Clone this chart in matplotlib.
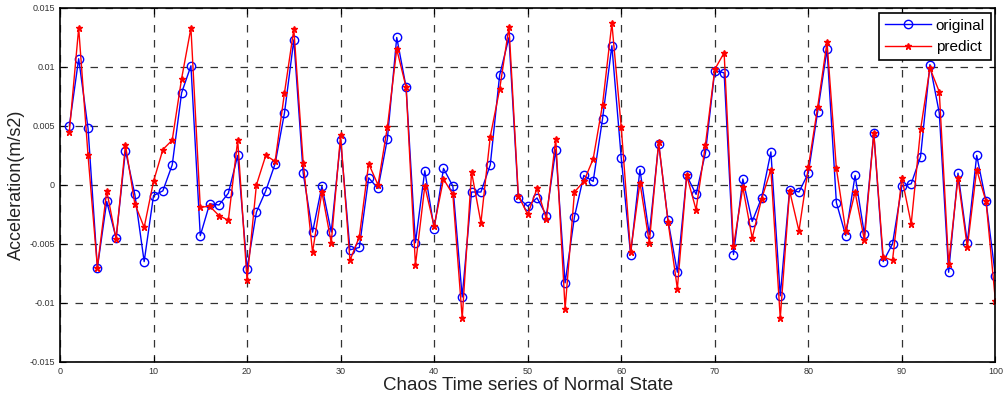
import numpy as np
import matplotlib.pyplot as plt

plt.rcParams['font.family'] = ['Liberation Sans', 'DejaVu Sans']

# sample index 1..100
t = np.arange(1, 101)

original = [
    0.0050, 0.0107, 0.0048, -0.0070, -0.0014, -0.0045, 0.0029, -0.0008, -0.0065, -0.0009,
    -0.0005, 0.0017, 0.0078, 0.0101, -0.0043, -0.0016, -0.0017, -0.0007, 0.0025, -0.0071,
    -0.0023, -0.0005, 0.0018, 0.0061, 0.0123, 0.0010, -0.0040, -0.0001, -0.0040, 0.0038,
    -0.0055, -0.0053, 0.0006, -0.0003, 0.0039, 0.0125, 0.0083, -0.0049, 0.0012, -0.0037,
    0.0014, -0.0001, -0.0095, -0.0006, -0.0006, 0.0017, 0.0093, 0.0125, -0.0011, -0.0018,
    -0.0011, -0.0026, 0.0030, -0.0083, -0.0027, 0.0008, 0.0003, 0.0056, 0.0118, 0.0023,
    -0.0059, 0.0013, -0.0042, 0.0035, -0.0030, -0.0074, 0.0008, -0.0008, 0.0027, 0.0097,
    0.0095, -0.0059, 0.0005, -0.0031, -0.0011, 0.0028, -0.0094, -0.0004, -0.0006, 0.0010,
    0.0062, 0.0115, -0.0015, -0.0043, 0.0008, -0.0042, 0.0044, -0.0065, -0.0050, -0.0001,
    0.0001, 0.0024, 0.0102, 0.0061, -0.0074, 0.0010, -0.0049, 0.0025, -0.0014, -0.0077,
]

predict = [
    0.0045, 0.0133, 0.0025, -0.0070, -0.0005, -0.0046, 0.0034, -0.0016, -0.0036, 0.0003,
    0.0030, 0.0038, 0.0090, 0.0133, -0.0019, -0.0018, -0.0026, -0.0030, 0.0038, -0.0081,
    0.0000, 0.0025, 0.0020, 0.0078, 0.0132, 0.0019, -0.0057, -0.0006, -0.0049, 0.0042,
    -0.0064, -0.0044, 0.0018, 0.0000, 0.0049, 0.0115, 0.0083, -0.0068, -0.0001, -0.0035,
    0.0005, -0.0008, -0.0113, 0.0011, -0.0032, 0.0041, 0.0081, 0.0134, -0.0009, -0.0025,
    -0.0003, -0.0029, 0.0039, -0.0105, -0.0006, 0.0003, 0.0022, 0.0068, 0.0137, 0.0049,
    -0.0057, 0.0002, -0.0049, 0.0036, -0.0031, -0.0088, 0.0008, -0.0021, 0.0034, 0.0098,
    0.0112, -0.0052, -0.0002, -0.0045, -0.0012, 0.0013, -0.0113, -0.0005, -0.0039, 0.0015,
    0.0066, 0.0121, 0.0014, -0.0039, -0.0006, -0.0047, 0.0044, -0.0061, -0.0064, 0.0006,
    -0.0033, 0.0047, 0.0099, 0.0079, -0.0067, 0.0006, -0.0053, 0.0013, -0.0014, -0.0098,
]

xticks = np.arange(0, 101, 10)
yticks = [-0.015, -0.01, -0.005, 0, 0.005, 0.01, 0.015]
ytick_labels = ['-0.015', '-0.01', '-0.005', '0', '0.005', '0.01', '0.015']

fig = plt.figure(figsize=(10.08, 3.99), dpi=100)
ax = fig.add_axes([0.0595, 0.093, 0.928, 0.887])

ax.plot(t, original, color='blue', marker='o', markersize=6, markerfacecolor='none',
        markeredgewidth=1.0, linewidth=1.0, label='original')
ax.plot(t, predict, color='red', marker='*', markersize=5, linewidth=1.0, label='predict')

ax.set_xlim(0, 100)
ax.set_ylim(-0.015, 0.015)
ax.set_xticks(xticks)
ax.set_yticks(yticks)
ax.set_yticklabels(ytick_labels)
ax.tick_params(direction='in', top=True, right=True, labelsize=6.5, length=4,
               labelcolor='#333333')
ax.grid(True, color='black', linestyle=(0, (6, 6)), linewidth=0.9, alpha=0.8)
for s in ax.spines.values():
    s.set_linewidth(1.2)

ax.set_xlabel('Chaos Time series of Normal State', fontsize=13.5, labelpad=1,
              color='#222222')
ax.set_ylabel('Acceleration(m/s2)', fontsize=13, labelpad=3, color='#222222')

leg = ax.legend(loc='upper right', fontsize=11, fancybox=False, framealpha=1,
                edgecolor='black', borderaxespad=0.3, handlelength=3,
                borderpad=0.4, labelspacing=0.5, handletextpad=0.3, numpoints=1)
leg.get_frame().set_linewidth(1.2)

fig.savefig('out.png', dpi=100)
